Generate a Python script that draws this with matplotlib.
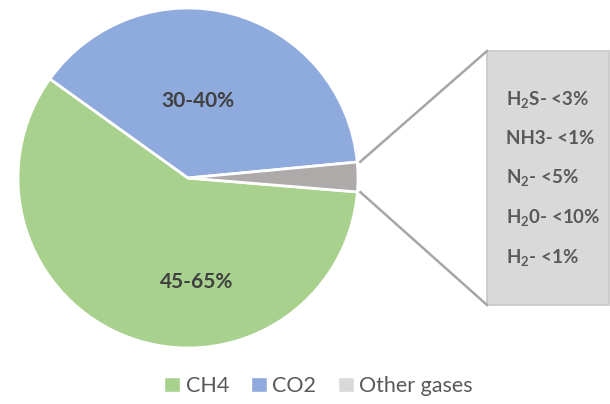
import matplotlib
matplotlib.use("Agg")
import matplotlib.pyplot as plt
from matplotlib.patches import Rectangle, Patch
import numpy as np

# ---- data ----
categories = ["CH4", "CO2", "Other gases"]
values = [58.6, 38.6, 2.8]
slice_labels = ["45-65%", "30-40%", ""]
other_items = ["H$_2$S- <3%", "NH3- <1%", "N$_2$- <5%", "H$_2$0- <10%", "H$_2$- <1%"]

# ---- style ----
colors = ["#a9d18e", "#8faadc", "#aeaaaa"]
legend_colors = ["#a9d18e", "#8faadc", "#d9d9d9"]
FONT = "Lato"
plt.rcParams["font.family"] = [FONT, "DejaVu Sans"]
plt.rcParams["mathtext.fontset"] = "custom"
plt.rcParams["mathtext.rm"] = FONT + ":bold"
plt.rcParams["mathtext.bf"] = FONT + ":bold"
plt.rcParams["mathtext.it"] = FONT + ":bold"
plt.rcParams["mathtext.default"] = "bf"

W, H = 610, 404
fig = plt.figure(figsize=(W / 100, H / 100), dpi=100)
ax = fig.add_axes([0, 0, 1, 1])

cx, cy, R = 188, H - 178, 170
wedges, _ = ax.pie(values, colors=colors, startangle=-4.7, counterclock=False,
                   center=(cx, cy), radius=R, frame=True,
                   wedgeprops=dict(edgecolor="white", linewidth=2))
ax.set_xlim(0, W)
ax.set_ylim(0, H)
ax.set_aspect("equal")
ax.axis("off")

# slice labels
label_pos = {0: (197, H - 282), 1: (198, H - 101)}
for i, (x, y) in label_pos.items():
    ax.text(x, y, slice_labels[i], ha="center", va="center", fontsize=15,
            fontweight="bold", color="#404040")

# box for other gases
bx0, by0, bx1, by1 = 487, H - 305, 609, H - 51
ax.add_patch(Rectangle((bx0, by0), bx1 - bx0, by1 - by0, facecolor="#d9d9d9",
                       edgecolor="#c8c8c8", linewidth=1.2, zorder=2))

# connector lines from the small slice edges to the box corners
w = wedges[2]
t1, t2 = np.deg2rad(w.theta2), np.deg2rad(w.theta1)
r2 = R + 3
ax.plot([cx + r2 * np.cos(t1), bx0], [cy + r2 * np.sin(t1), by1], color="#a6a6a6", lw=1.8)
ax.plot([cx + r2 * np.cos(t2), bx0], [cy + r2 * np.sin(t2), by0], color="#a6a6a6", lw=1.8)

ys = [99, 138, 178, 218, 258]
for txt, y in zip(other_items, ys):
    ax.text(506, H - y, txt, ha="left", va="center", fontsize=13.5,
            fontweight="bold", color="#595959", zorder=3)

handles = [Patch(facecolor=c, edgecolor="white", linewidth=1) for c in legend_colors]
leg = fig.legend(handles, categories, loc="center", bbox_to_anchor=(0.522, 1 - 386 / H),
                 ncol=3, frameon=False, fontsize=15.5, handlelength=0.75, handleheight=0.75,
                 handletextpad=0.25, columnspacing=1.0)
for t in leg.get_texts():
    t.set_color("#595959")

fig.savefig("out.png", dpi=100)
